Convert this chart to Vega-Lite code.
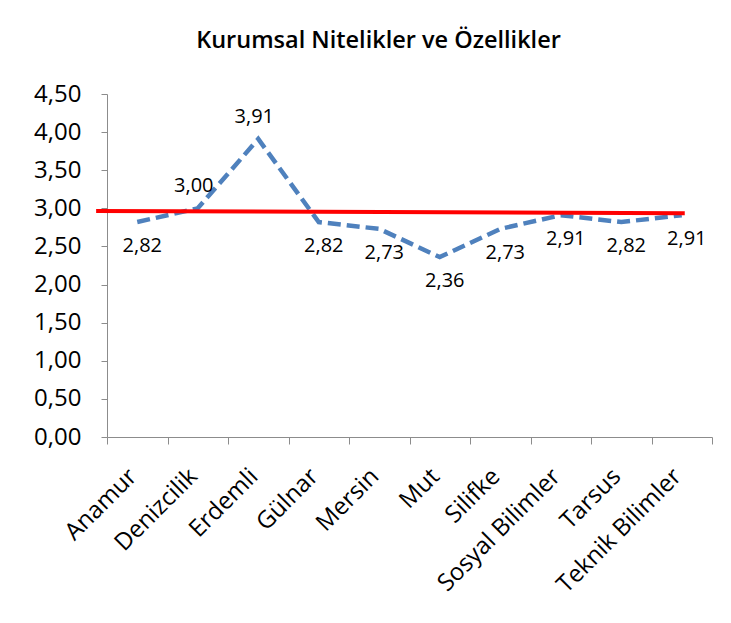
{
  "$schema": "https://vega.github.io/schema/vega-lite/v6.json",
  "width": 605,
  "height": 343,
  "padding": {"left": 33, "top": 28, "right": 15, "bottom": 5},
  "background": "white",
  "config": {
    "locale": {"number": {"decimal": ",", "thousands": ".", "grouping": [3], "currency": ["", " TL"]}},
    "view": {"stroke": null},
    "font": "Open Sans",
    "axisY": {
      "title": null, "values": [0, 0.5, 1, 1.5, 2, 2.5, 3, 3.5, 4, 4.5], "format": ".2f",
      "grid": false, "labelFontSize": 24, "labelColor": "#000000", "labelPadding": 20,
      "labelOverlap": false,
      "domainColor": "#8C8C8C", "tickColor": "#8C8C8C", "tickSize": 6, "labelFont": "Open Sans"
    }
  },
  "title": {
    "text": "Kurumsal Nitelikler ve Özellikler",
    "font": "Open Sans",
    "fontSize": 23.5,
    "fontWeight": 600,
    "color": "#000000",
    "offset": 30,
    "dx": -31
  },
  "datasets": {
    "scores": [
      {"birim": "Anamur", "puan": 2.82},
      {"birim": "Denizcilik", "puan": 3.00},
      {"birim": "Erdemli", "puan": 3.91},
      {"birim": "Gülnar", "puan": 2.82},
      {"birim": "Mersin", "puan": 2.73},
      {"birim": "Mut", "puan": 2.36},
      {"birim": "Silifke", "puan": 2.73},
      {"birim": "Sosyal Bilimler", "puan": 2.91},
      {"birim": "Tarsus", "puan": 2.82},
      {"birim": "Teknik Bilimler", "puan": 2.91}
    ],
    "trend": [
      {"sira": 0.32, "deger": 2.965},
      {"sira": 10.05, "deger": 2.935}
    ]
  },
  "layer": [
    {
      "data": {"name": "scores"},
      "encoding": {
        "x": {
          "field": "birim", "type": "nominal", "sort": null,
          "scale": {"type": "band", "paddingInner": 0, "paddingOuter": 0},
          "axis": {
            "title": null, "labelAngle": -45, "labelAlign": "right", "labelBaseline": "top",
            "labelFontSize": 24, "labelColor": "#000000", "labelPadding": 20, "labelOffset": -13,
            "tickBand": "extent", "domainColor": "#8C8C8C", "tickColor": "#8C8C8C", "tickSize": 7,
            "labelFont": "Open Sans"
          }
        },
        "y": {
          "field": "puan", "type": "quantitative",
          "scale": {"domain": [0, 4.5], "nice": false}
        }
      },
      "layer": [
        {
          "mark": {"type": "line", "color": "#4F81BD", "strokeWidth": 4.5, "strokeDash": [13, 6]}
        },
        {
          "transform": [{"filter": "datum.birim != 'Denizcilik' && datum.birim != 'Erdemli'"}],
          "mark": {"type": "text", "fontSize": 20, "dx": 5, "dy": 24, "color": "#000000", "font": "Open Sans"},
          "encoding": {
            "text": {"field": "puan", "type": "quantitative", "format": ".2f"}
          }
        },
        {
          "transform": [{"filter": "datum.birim == 'Denizcilik' || datum.birim == 'Erdemli'"}],
          "mark": {"type": "text", "fontSize": 20, "dx": -4, "dy": -22, "color": "#000000", "font": "Open Sans"},
          "encoding": {
            "text": {"field": "puan", "type": "quantitative", "format": ".2f"}
          }
        }
      ]
    },
    {
      "data": {"name": "trend"},
      "mark": {"type": "line", "color": "#FF0000", "strokeWidth": 4},
      "encoding": {
        "x": {"field": "sira", "type": "quantitative", "scale": {"domain": [0.5, 10.5], "nice": false, "zero": false}, "axis": null},
        "y": {"field": "deger", "type": "quantitative"}
      }
    }
  ],
  "resolve": {"scale": {"x": "independent"}}
}
